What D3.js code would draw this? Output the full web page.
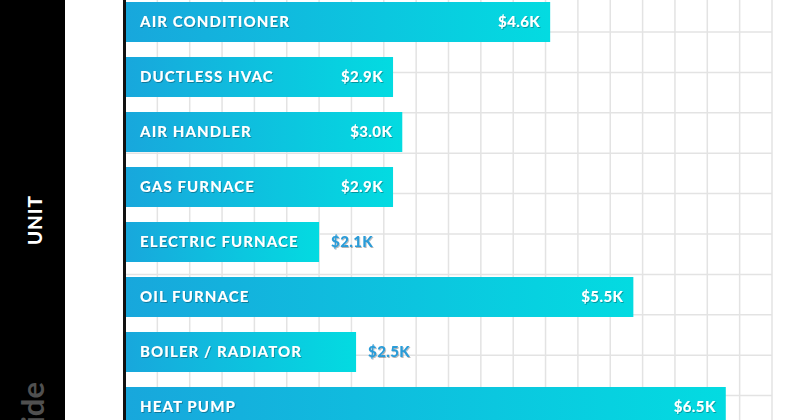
<!DOCTYPE html>
<html><head><meta charset="utf-8">
<script src="https://cdn.jsdelivr.net/npm/d3@7"></script>
<style>
html,body{margin:0;padding:0;background:#fff;}
svg{display:block;}
.lbl{font-family:Lato,"Open Sans",sans-serif;font-weight:900;}
</style></head>
<body>
<svg id="chart" width="800" height="420"></svg>
<script>
const categories = ["AIR CONDITIONER","DUCTLESS HVAC","AIR HANDLER","GAS FURNACE","ELECTRIC FURNACE","OIL FURNACE","BOILER / RADIATOR","HEAT PUMP"];
const values = [4.6, 2.9, 3.0, 2.9, 2.1, 5.5, 2.5, 6.5];
const axisTitle = "UNIT";
const brandText = "Guide";

const W = 800, H = 420;
const svg = d3.select("#chart");

const x = d3.scaleLinear().domain([0, 7]).range([125, 772]);
const y = d3.scaleBand().domain(categories).range([-5.5, 434.5]).paddingInner(0.2727).paddingOuter(0.1364);

// left black band
svg.append("rect").attr("x",0).attr("y",0).attr("width",65).attr("height",H).attr("fill","#000");

// background grid (decorative)
const grid = svg.append("g");
const vx = d3.range(0, 7.0001, 0.35);
grid.selectAll("line.v").data(vx).join("line")
  .attr("x1", d=>x(d)).attr("x2", d=>x(d)).attr("y1",0).attr("y2",H)
  .attr("stroke","#e3e3e3").attr("stroke-width",1.5);
const hy = d3.range(32, H, 40.4);
grid.selectAll("line.h").data(hy).join("line")
  .attr("x1", x(0)).attr("x2", x(7)).attr("y1", d=>d).attr("y2", d=>d)
  .attr("stroke","#e3e3e3").attr("stroke-width",1.5);

// gradient
const defs = svg.append("defs");
const grad = defs.append("linearGradient").attr("id","barGrad").attr("x1","0").attr("x2","1").attr("y1","0").attr("y2","0");
grad.append("stop").attr("offset","0%").attr("stop-color","#18a7dc");
grad.append("stop").attr("offset","100%").attr("stop-color","#03dbe1");
const sh = defs.append("filter").attr("id","ts").attr("x","-10%").attr("y","-20%").attr("width","130%").attr("height","150%");
sh.append("feDropShadow").attr("dx",0.8).attr("dy",1).attr("stdDeviation",0.6).attr("flood-color","#000").attr("flood-opacity",0.3);

const data = categories.map((c,i)=>({c, v: values[i]}));

svg.append("g").selectAll("rect").data(data).join("rect")
  .attr("x", x(0)).attr("y", d=>y(d.c))
  .attr("width", d=>x(d.v)-x(0)).attr("height", y.bandwidth())
  .attr("fill","url(#barGrad)");

// axis line
svg.append("g").attr("transform",`translate(${x(0)-0.5},0)`)
  .call(d3.axisLeft(y).tickSize(0).tickFormat(""))
  .call(g=>g.select(".domain").attr("stroke","#111").attr("stroke-width",3).attr("d",`M0,0V${H}`));

// category labels
const catL = svg.append("g").selectAll("text").data(data).join("text")
  .attr("class","lbl")
  .attr("x", x(0)+15).attr("y", d=>y(d.c)+y.bandwidth()/2)
  .attr("dy","0.36em").attr("font-size",15).attr("fill","#fff")
  .attr("letter-spacing","1.1px")
  .attr("filter","url(#ts)")
  .text(d=>d.c);

const fmt = v => "$" + v.toFixed(1) + "K";
const valL = svg.append("g").selectAll("text").data(data).join("text")
  .attr("class","lbl")
  .attr("y", d=>y(d.c)+y.bandwidth()/2)
  .attr("dy","0.36em").attr("font-size",15)
  .attr("letter-spacing","0.4px")
  .attr("filter","url(#ts)")
  .text(d=>fmt(d.v));

const catNodes = catL.nodes();
valL.each(function(d,i){
  const vw = this.getComputedTextLength();
  const cEnd = x(0)+15+catNodes[i].getComputedTextLength();
  const barEnd = x(d.v);
  const t = d3.select(this);
  if (barEnd - 10 - vw > cEnd + 12) {
    t.attr("x", barEnd-10).attr("text-anchor","end").attr("fill","#fff");
  } else {
    t.attr("x", barEnd+12).attr("text-anchor","start").attr("fill","#2b9cd8");
  }
});

// axis title
svg.append("text").attr("class","lbl")
  .attr("transform","translate(42,220) rotate(-90)")
  .attr("text-anchor","middle").attr("font-size",19).attr("fill","#fff")
  .attr("letter-spacing","1px")
  .text(axisTitle);

// brand text (partially cut, as in the reference)
svg.append("text")
  .attr("transform","translate(44,382) rotate(-90)")
  .attr("font-family","Lato, sans-serif").attr("font-size",31).attr("font-weight",700).attr("fill","#505050")
  .attr("text-anchor","end")
  .text(brandText);
</script>
</body></html>
